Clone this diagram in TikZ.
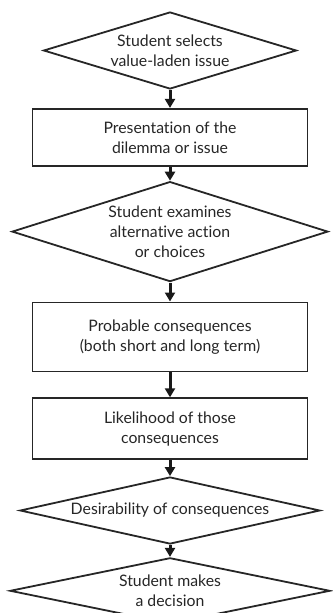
\documentclass[tikz,border=0pt]{standalone}
\usepackage{fontspec}
\setmainfont{Lato}[Ligatures=CommonOff]
\usepackage{tikz}
\usetikzlibrary{positioning,shapes.geometric,arrows.meta}

\begin{document}
\begin{tikzpicture}[
% styles
x=1pt, y=1pt,
every node/.style={font=\fontsize{15.8}{20}\selectfont, text=black!85, align=center},
decision/.style={diamond, draw=black!85, line width=1.8pt, inner sep=0pt},
boxnode/.style={rectangle, draw=black!85, line width=1.8pt, minimum width=275pt, inner sep=2pt},
flowarrow/.style={draw=black!90, line width=3pt, -{Triangle[length=9pt,width=10pt]}},
]
\useasboundingbox (0,0) rectangle (332,-613);

% nodes
\node[decision, aspect=3.29, minimum width=253pt, minimum height=77pt] (select) at (170,-50.5) {Student selects\\value-laden issue};
\node[boxnode, minimum height=57pt] (present) [below=18pt of select] {Presentation of the\\dilemma or issue};
\node[decision, aspect=3.16, minimum width=316pt, minimum height=100pt] (examine) [below=14pt of present] {Student examines\\alternative action\\or choices};
\node[boxnode, minimum height=69pt] (probable) [below=19pt of examine] {Probable consequences\\(both short and long term)};
\node[boxnode, minimum height=61pt] (likely) [below=25pt of probable] {Likelihood of those\\consequences};
\node[decision, aspect=4.48, minimum width=300pt, minimum height=67pt] (desire) [below=16pt of likely] {Desirability of consequences};
\node[decision, aspect=4.85, minimum width=320pt, minimum height=66pt] (decide) [below=12pt of desire] {Student makes\\a decision};

% arrows
\draw[flowarrow] (select.south) -- (present.north);
\draw[flowarrow] (present.south) -- (examine.north);
\draw[flowarrow] (examine.south) -- (probable.north);
\draw[flowarrow] (probable.south) -- (likely.north);
\draw[flowarrow] (likely.south) -- (desire.north);
\draw[flowarrow] (desire.south) -- (decide.north);

\end{tikzpicture}
\end{document}
